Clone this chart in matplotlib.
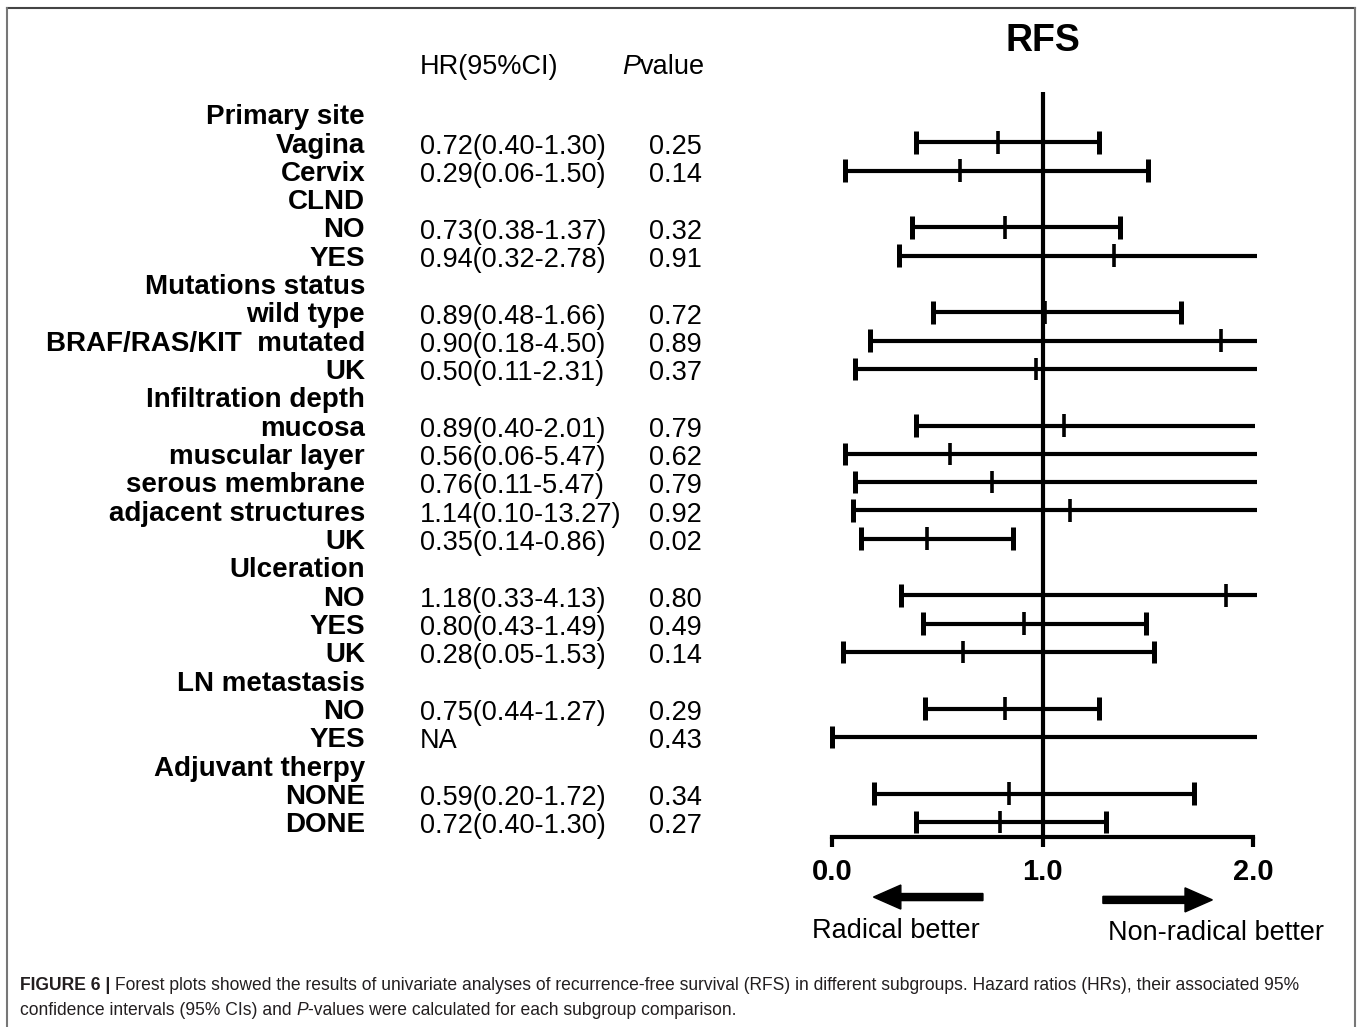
import numpy as np
import matplotlib
matplotlib.use("Agg")
import matplotlib.pyplot as plt
from matplotlib.lines import Line2D
from matplotlib.transforms import blended_transform_factory

plt.rcParams["font.family"] = ["Liberation Sans", "DejaVu Sans"]

# subgroup rows, top to bottom (headers have no values)
rows = ["Primary site", "Vagina", "Cervix", "CLND", "NO", "YES",
        "Mutations status", "wild type", "BRAF/RAS/KIT  mutated", "UK",
        "Infiltration depth", "mucosa", "muscular layer", "serous membrane",
        "adjacent structures", "UK", "Ulceration", "NO", "YES", "UK",
        "LN metastasis", "NO", "YES", "Adjuvant therpy", "NONE", "DONE"]
hr_text = ["", "0.72(0.40-1.30)", "0.29(0.06-1.50)", "", "0.73(0.38-1.37)", "0.94(0.32-2.78)",
           "", "0.89(0.48-1.66)", "0.90(0.18-4.50)", "0.50(0.11-2.31)",
           "", "0.89(0.40-2.01)", "0.56(0.06-5.47)", "0.76(0.11-5.47)",
           "1.14(0.10-13.27)", "0.35(0.14-0.86)", "", "1.18(0.33-4.13)", "0.80(0.43-1.49)", "0.28(0.05-1.53)",
           "", "0.75(0.44-1.27)", "NA", "", "0.59(0.20-1.72)", "0.72(0.40-1.30)"]
p_text = ["", "0.25", "0.14", "", "0.32", "0.91", "", "0.72", "0.89", "0.37",
          "", "0.79", "0.62", "0.79", "0.92", "0.02", "", "0.80", "0.49", "0.14",
          "", "0.29", "0.43", "", "0.34", "0.27"]

nan = np.nan
# positions as drawn in the plot
est = [nan, 0.79, 0.61, nan, 0.82, 1.34, nan, 1.01, 1.85, 0.97,
       nan, 1.10, 0.56, 0.76, 1.13, 0.45, nan, 1.87, 0.91, 0.62,
       nan, 0.82, nan, nan, 0.84, 0.80]
lower = [nan, 0.40, 0.06, nan, 0.38, 0.32, nan, 0.48, 0.18, 0.11,
         nan, 0.40, 0.06, 0.11, 0.10, 0.14, nan, 0.33, 0.43, 0.05,
         nan, 0.44, 0.00, nan, 0.20, 0.40]
upper = [nan, 1.27, 1.50, nan, 1.37, 2.78, nan, 1.66, 4.50, 2.31,
         nan, 2.01, 5.47, 5.47, 13.27, 0.86, nan, 4.13, 1.49, 1.53,
         nan, 1.27, np.inf, nan, 1.72, 1.30]

W, H = 1358, 1027
fig = plt.figure(figsize=(W / 100, H / 100), dpi=100)

# forest axes: x 0..2 spans px 832..1253, row r sits at px 114 + 28.32 r
row_px, row0 = 28.32, 114
ytop, ybot = -1.0, 25.53
top_px = row0 + row_px * ytop
bot_px = row0 + row_px * ybot
ax = fig.add_axes([832 / W, 1 - bot_px / H, 421 / W, (bot_px - top_px) / H])
ax.set_xlim(0, 2)
ax.set_ylim(ybot, ytop)
for side in ("top", "left", "right"):
    ax.spines[side].set_visible(False)
ax.spines["bottom"].set_linewidth(3)
ax.set_yticks([])
ax.set_xticks([0, 1, 2], ["0.0", "1.0", "2.0"])
ax.tick_params(axis="x", length=7, width=3, pad=8, labelsize=21)
for lab in ax.get_xticklabels():
    lab.set_fontweight("bold")

ax.vlines(1, -0.77, ybot, color="black", lw=3, clip_on=False)

y = np.arange(len(rows))
lo = np.array(lower)
hi = np.array(upper)
mid = np.array(est)
has = ~np.isnan(lo)
ax.hlines(y[has], lo[has], np.minimum(hi[has], 2.02), color="black", lw=3, clip_on=False)
ax.vlines(lo[has], y[has] - 0.4, y[has] + 0.4, color="black", lw=3.6, clip_on=False)
capped = has & (hi <= 2)
ax.vlines(hi[capped], y[capped] - 0.4, y[capped] + 0.4, color="black", lw=3.6, clip_on=False)
shown = ~np.isnan(mid)
ax.vlines(mid[shown], y[shown] - 0.4, y[shown] + 0.4, color="black", lw=2.6, clip_on=False)

ax.text(1.0, -2.22, "RFS", ha="center", va="baseline", fontsize=27, fontweight="bold")

# direction arrows
ax.arrow(0.717, 27.65, -0.39, 0, width=0.25, head_width=0.85, head_length=0.13,
         color="black", clip_on=False)
ax.arrow(1.287, 27.75, 0.39, 0, width=0.25, head_width=0.85, head_length=0.13,
         color="black", clip_on=False)
ax.text(-0.095, 29.1, "Radical better", ha="left", va="baseline", fontsize=19.5)
ax.text(1.311, 29.15, "Non-radical better", ha="left", va="baseline", fontsize=19.5)

# table text
tr = blended_transform_factory(fig.transFigure, ax.transData)
for i, name in enumerate(rows):
    fig.text(365 / W, i + 0.36, name, transform=tr, ha="right", va="baseline",
             fontsize=20, fontweight="bold")
    if hr_text[i]:
        fig.text(420 / W, i + 0.4, hr_text[i], transform=tr, ha="left", va="baseline", fontsize=19.5)
    if p_text[i]:
        fig.text(649 / W, i + 0.4, p_text[i], transform=tr, ha="left", va="baseline", fontsize=19.5)

renderer = fig.canvas.get_renderer()


def put_runs(x, yb, runs, size, color="black", family=None):
    for s, style, weight in runs:
        kw = {} if family is None else {"family": family}
        t = fig.text(x, yb, s, ha="left", va="baseline", fontsize=size, fontstyle=style,
                     fontweight=weight, color=color, **kw)
        x += t.get_window_extent(renderer).width / fig.bbox.width


fig.text(420 / W, 1 - 74 / H, "HR(95%CI)", ha="left", va="baseline", fontsize=19.5)
put_runs(622 / W, 1 - 74 / H, [("P", "italic", "normal"), ("value", "normal", "normal")], 19.5)

cap_font = ["Liberation Sans Narrow", "Liberation Sans"]
put_runs(20 / W, 1 - 990 / H,
         [("FIGURE 6 | ", "normal", "bold"),
          ("Forest plots showed the results of univariate analyses of recurrence-free survival (RFS) "
           "in different subgroups. Hazard ratios (HRs), their associated 95%", "normal", "normal")],
         12.65, color="#231f20", family=cap_font)
put_runs(20 / W, 1 - 1015 / H,
         [("confidence intervals (95% CIs) and ", "normal", "normal"), ("P", "italic", "normal"),
          ("-values were calculated for each subgroup comparison.", "normal", "normal")],
         12.65, color="#231f20", family=cap_font)

# panel frame
fig.add_artist(Line2D([7 / W, 1355 / W], [1 - 8 / H, 1 - 8 / H], color="#444444", lw=1.5))
fig.add_artist(Line2D([7 / W, 7 / W], [0, 1 - 8 / H], color="#777777", lw=1.5))
fig.add_artist(Line2D([1355 / W, 1355 / W], [0, 1 - 8 / H], color="#777777", lw=1.5))

fig.savefig("out.png", dpi=100)
